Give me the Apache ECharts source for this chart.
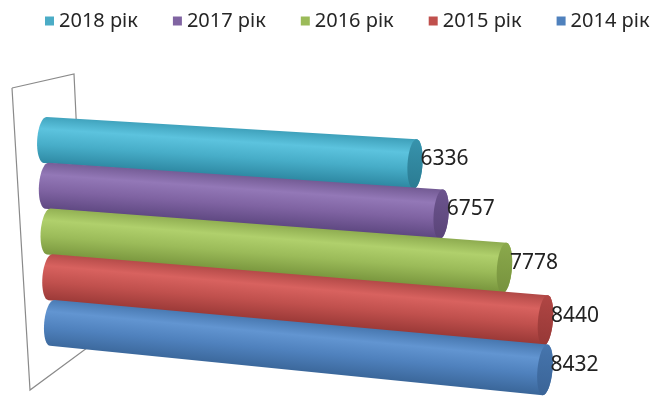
<!DOCTYPE html>
<html>
<head>
<meta charset="utf-8">
<script src="https://cdn.jsdelivr.net/npm/echarts@6/dist/echarts.min.js"></script>
<style>
html,body{margin:0;padding:0;background:#fff;}
#chart{width:658px;height:396px;}
</style>
</head>
<body>
<div id="chart"></div>
<script>
// ---- data ----
const seriesNames = ['2018 рік', '2017 рік', '2016 рік', '2015 рік', '2014 рік'];
const values = [6336, 6757, 7778, 8440, 8432];
const baseColors = ['#4BACC6', '#8064A2', '#9BBB59', '#C0504D', '#4F81BD'];

// ---- styling (cylinder shading) ----
const shades = [
  { top: '#3d9fb9', hi: '#5cc3de', mid: '#47adc8', bot: '#2c86a0', capT: '#3793ac', capB: '#2b7b92' },
  { top: '#725a93', hi: '#9378b7', mid: '#7f63a2', bot: '#5c467f', capT: '#6c548e', capB: '#5a4478' },
  { top: '#8dab4f', hi: '#b0d06c', mid: '#9bbb59', bot: '#77943c', capT: '#8ba94c', capB: '#76923d' },
  { top: '#b04846', hi: '#d8625f', mid: '#c0504d', bot: '#973735', capT: '#b04644', capB: '#963836' },
  { top: '#4676ae', hi: '#6295d1', mid: '#4f81bd', bot: '#3a6699', capT: '#4675ad', capB: '#3a6497' }
];
const FONT = '"Noto Sans", "DejaVu Sans", sans-serif';

function ellipsePts(cx, rx, ry, a0, a1, n) {
  const pts = [];
  for (let k = 0; k <= n; k++) {
    const t = a0 + (a1 - a0) * k / n;
    pts.push([cx + rx * Math.cos(t), ry * Math.sin(t)]);
  }
  return pts;
}

function renderItem(params, api) {
  const v = api.value(0);
  const r = api.value(1);
  const p0 = api.coord([0, r]);
  const p1 = api.coord([v, r]);
  const slope = 0.065 + 0.0075 * r;
  const xs = p0[0] + 23 + r * 1.75;
  const ys = p0[1];
  const xe = p1[0];
  const ye = ys + (xe - xs) * slope;
  const hs = 46;
  const he = 46 + (xe - xs) * 0.01;
  const dx = xe - xs, dy = ye - ys;
  const L = Math.sqrt(dx * dx + dy * dy);
  const ang = Math.atan2(dy, dx);
  const s = shades[r];
  const rxL = 8, rxR = 7.5;

  let body = ellipsePts(0, rxL, hs / 2, Math.PI / 2, Math.PI * 1.5, 24);
  body = body.concat(ellipsePts(L, rxR, he / 2, -Math.PI / 2, Math.PI / 2, 24));
  const cap = ellipsePts(L, rxR, he / 2, 0, Math.PI * 2, 48);

  const bodyGrad = new echarts.graphic.LinearGradient(0, 0, 0, 1, [
    { offset: 0, color: s.top },
    { offset: 0.28, color: s.hi },
    { offset: 0.6, color: s.mid },
    { offset: 1, color: s.bot }
  ]);
  const capGrad = new echarts.graphic.LinearGradient(0, 0, 0, 1, [
    { offset: 0, color: s.capT },
    { offset: 1, color: s.capB }
  ]);

  return {
    type: 'group',
    children: [
      {
        type: 'group',
        x: xs, y: ys,
        rotation: -ang,
        children: [
          { type: 'polygon', shape: { points: body }, style: { fill: bodyGrad } },
          { type: 'polygon', shape: { points: cap }, style: { fill: capGrad } }
        ]
      },
      {
        type: 'text',
        x: xe + rxR - 2,
        y: ye - 5,
        style: {
          text: String(v),
          fontSize: 21,
          fontFamily: FONT,
          fill: '#222222',
          align: 'left',
          verticalAlign: 'middle'
        }
      }
    ]
  };
}

const chart = echarts.init(document.getElementById('chart'), null, { renderer: 'canvas' });

const series = seriesNames.map((name, i) => ({
  type: 'custom',
  name: name,
  data: [[values[i], i]],
  encode: { x: 0, y: 1 },
  itemStyle: { color: baseColors[i] },
  renderItem: renderItem,
  clip: false
}));

chart.setOption({
  animation: false,
  backgroundColor: '#ffffff',
  legend: {
    data: seriesNames,
    left: 45,
    top: 11,
    width: 613,
    padding: 0,
    icon: 'rect',
    itemWidth: 9,
    itemHeight: 9,
    itemGap: 35,
    textStyle: { fontSize: 20, color: '#262626', fontFamily: FONT }
  },
  grid: { left: 22.2, right: 15.8, top: 117.1, height: 228.75 },
  xAxis: { type: 'value', min: 0, max: 10000, show: false },
  yAxis: { type: 'category', data: seriesNames, inverse: true, show: false },
  graphic: [
    {
      type: 'polyline',
      z: 0,
      shape: { points: [[12, 88], [74, 74], [87, 348], [30, 390], [12, 88]] },
      style: { stroke: '#8a8a8a', lineWidth: 1.2, fill: null }
    }
  ],
  series: series
});
</script>
</body>
</html>
